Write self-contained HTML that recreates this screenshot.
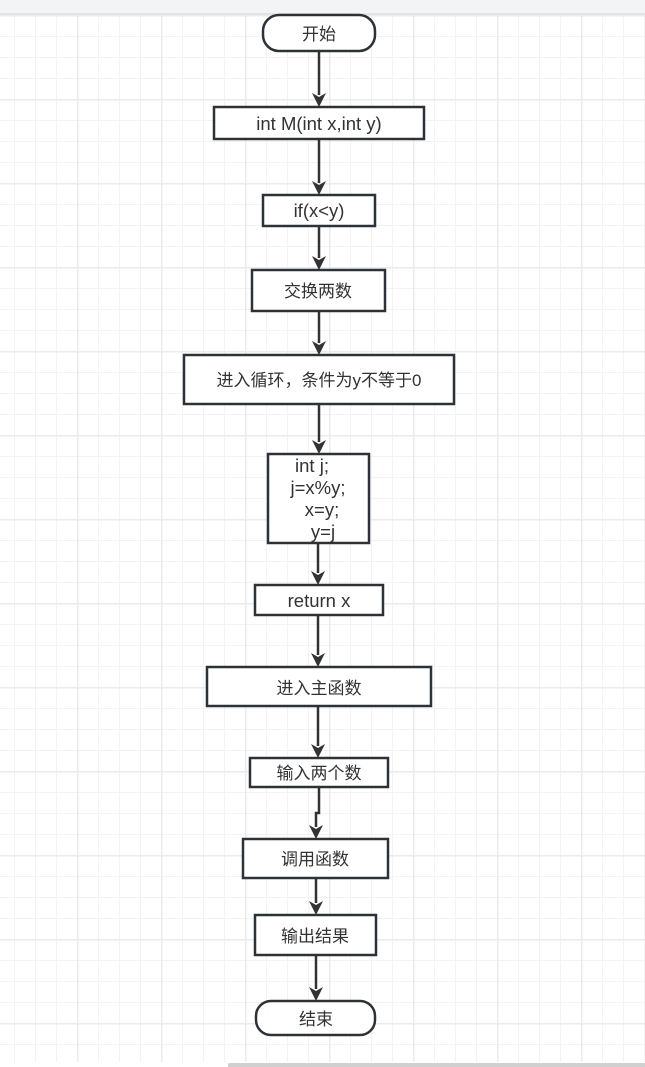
<!DOCTYPE html>
<html><head><meta charset="utf-8"><style>
html,body{margin:0;padding:0;}
body{width:645px;height:1067px;overflow:hidden;position:relative;background:#fff;font-family:"Liberation Sans","Noto Sans CJK SC",sans-serif;}
.top{position:absolute;left:0;top:0;width:645px;height:13px;background:#f3f4f6;border-bottom:2px solid #e3e4e7;}
.grid{position:absolute;left:0;top:15px;width:645px;height:1047px;
background-image:
linear-gradient(to right,#ebebeb 1.5px,transparent 1.5px),
linear-gradient(to bottom,#ebebeb 1.5px,transparent 1.5px),
linear-gradient(to right,#f3f3f3 1px,transparent 1px),
linear-gradient(to bottom,#f3f3f3 1px,transparent 1px);
background-size:84px 84px,84px 84px,21px 21px,21px 21px;
background-position:77px 0,0 0px,14px 0,0 0;}
.sb{position:absolute;left:228px;top:1063px;width:417px;height:4px;background:#d0d0d0;border-radius:2px 0 0 0;}
svg{position:absolute;left:0;top:0;}
text{font-family:"Liberation Sans","Noto Sans CJK SC",sans-serif;font-size:17px;fill:#333;text-anchor:middle;}
text.l{font-size:18.5px;}
</style></head><body>
<div class="top"></div>
<div class="grid"></div>
<div class="sb"></div>
<svg width="645" height="1067">
<g stroke="#333" stroke-width="2.5" fill="none">
<line x1="319" y1="51" x2="319" y2="95"/>
<line x1="319" y1="139" x2="319" y2="183"/>
<line x1="319" y1="226" x2="319" y2="258"/>
<line x1="319" y1="311" x2="319" y2="343"/>
<line x1="319" y1="404" x2="319" y2="442"/>
<line x1="318" y1="543" x2="318" y2="573"/>
<line x1="318" y1="615" x2="318" y2="655"/>
<line x1="318" y1="706" x2="318" y2="746"/>
<path d="M319,787 L319,813 L316,813 L316,827"/>
<line x1="316" y1="878" x2="316" y2="903"/>
<line x1="316" y1="955" x2="316" y2="989"/>
</g>
<g fill="#333">
<polygon points="312,93 319,97 326,93 319,107"/>
<polygon points="312,181 319,185 326,181 319,195"/>
<polygon points="312,256 319,260 326,256 319,270"/>
<polygon points="312,341 319,345 326,341 319,355"/>
<polygon points="312,440 319,444 326,440 319,454"/>
<polygon points="311,571 318,575 325,571 318,585"/>
<polygon points="311,653 318,657 325,653 318,667"/>
<polygon points="311,744 318,748 325,744 318,758"/>
<polygon points="309,825 316,829 323,825 316,839"/>
<polygon points="309,901 316,905 323,901 316,915"/>
<polygon points="309,987 316,991 323,987 316,1001"/>
</g>
<g stroke="#2c3238" stroke-width="2.5" fill="#fff">
<rect x="263" y="15" width="112" height="36" rx="16"/>
<rect x="214" y="107" width="210" height="32"/>
<rect x="263" y="195" width="112" height="31"/>
<rect x="252" y="270" width="133" height="41"/>
<rect x="184" y="355" width="270" height="49"/>
<rect x="268" y="454" width="101" height="89"/>
<rect x="255" y="585" width="128" height="30"/>
<rect x="207" y="667" width="224" height="39"/>
<rect x="250" y="758" width="138" height="29"/>
<rect x="243" y="839" width="145" height="39"/>
<rect x="255" y="915" width="121" height="40"/>
<rect x="256" y="1001" width="119" height="34" rx="15"/>
</g>
<text x="319" y="40">开始</text>
<text class="l" x="319" y="130">int M(int x,int y)</text>
<text class="l" x="319" y="217">if(x&lt;y)</text>
<text x="318" y="297">交换两数</text>
<text x="319" y="386">进入循环，条件为y不等于0</text>
<text class="l" x="312" y="472">int j;</text>
<text class="l" x="318" y="494">j=x%y;</text>
<text class="l" x="322" y="516">x=y;</text>
<text class="l" x="323" y="538">y=j</text>
<text class="l" x="319" y="607">return x</text>
<text x="319" y="694">进入主函数</text>
<text x="319" y="779">输入两个数</text>
<text x="315" y="865">调用函数</text>
<text x="315" y="942">输出结果</text>
<text x="316" y="1025">结束</text>
</svg>
</body></html>
